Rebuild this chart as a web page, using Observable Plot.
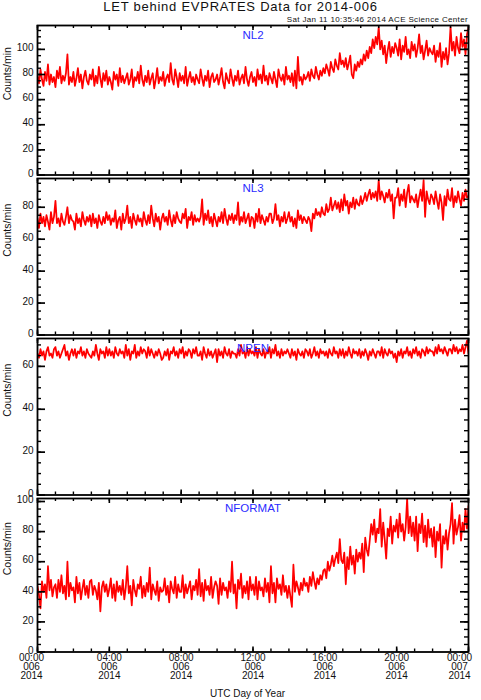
<!DOCTYPE html>
<html><head><meta charset="utf-8">
<script src="https://cdn.jsdelivr.net/npm/d3@7"></script>
<script src="https://cdn.jsdelivr.net/npm/@observablehq/plot@0.6"></script>
<style>
body{margin:0;background:#fff;}
#wrap{position:relative;width:481px;height:700px;overflow:hidden;font-family:"Liberation Sans",Arial,sans-serif;color:#111;}
#title{position:absolute;left:0;width:481px;top:-0.3px;text-align:center;font-size:13px;line-height:13px;letter-spacing:0.75px;z-index:2;}
#stamp{position:absolute;right:13px;top:15.9px;font-size:8px;line-height:8px;letter-spacing:0.35px;z-index:2;}
</style></head><body>
<div id="wrap"><div id="title">LET behind EVPRATES Data for 2014-006</div><div id="stamp">Sat Jan 11 10:35:46 2014 ACE Science Center</div></div>
<script>
const panelNames = ["NL2", "NL3", "NPEN", "NFORMAT"];
const yLabel = "Counts/min";
const xTitle = "UTC Day of Year";
const xTickHours = [0, 4, 8, 12, 16, 20, 24];
const xTickLabels = ["00:00\n006\n2014","04:00\n006\n2014","08:00\n006\n2014","12:00\n006\n2014","16:00\n006\n2014","20:00\n006\n2014","00:00\n007\n2014"];
const yTickSets = [[0,20,40,60,80,100],[0,20,40,60,80],[0,20,40,60],[0,20,40,60,80,100]];
const yMax = [119, 98, 73, 102];

// 5-minute samples (12 per hour), 00:00 day 006 to 00:00 day 007
const nl2 = [
79,73,84,76,71,82,75,88,72,80,74,78,
70,83,77,86,73,79,75,81,96,72,78,74,
82,71,77,85,74,80,69,78,83,75,72,80,
76,84,71,79,73,86,77,70,81,75,83,72,
78,74,68,82,76,80,71,85,74,79,73,77,
81,72,76,84,70,78,75,82,73,87,76,71,
79,74,83,72,77,81,69,76,85,73,78,75,
82,71,77,80,74,89,76,72,84,78,70,81,
75,79,73,86,71,77,82,74,78,72,80,76,
73,84,77,71,79,75,83,70,78,81,74,76,
80,72,78,85,74,69,81,76,73,84,77,71,
79,75,83,72,77,80,73,86,76,71,78,82,
74,78,71,84,76,80,73,87,75,79,72,81,
77,73,82,76,70,84,78,75,80,72,86,76,
79,74,81,71,83,69,94,75,78,72,80,76,
78,82,75,84,79,77,86,80,76,83,79,85,
81,88,84,79,90,85,82,92,87,84,97,88,
91,86,93,84,89,95,80,77,88,83,90,86,
92,88,96,91,99,93,102,97,108,101,110,104,
118,100,107,96,103,89,99,106,94,102,97,105,
101,95,108,92,103,98,110,96,100,93,106,99,
104,94,101,112,97,103,92,99,107,95,101,98,
96,103,90,99,94,105,86,98,92,101,88,97,
118,99,106,95,110,101,97,113,102,108,96,112,
117];
const nl3 = [
73,67,76,70,74,68,75,71,66,77,70,74,
84,70,73,68,76,71,69,74,80,70,75,72,
71,66,76,70,73,68,77,72,69,74,71,75,
68,76,70,73,67,75,71,69,74,70,77,72,
75,69,73,71,78,67,72,74,66,76,70,73,
81,70,74,67,76,72,69,75,71,73,68,77,
72,69,75,70,81,73,68,76,71,74,66,73,
76,71,74,69,78,72,68,75,70,77,73,71,
70,76,73,79,67,74,72,77,69,75,71,73,
71,74,85,69,76,72,78,70,74,68,76,72,
68,74,71,77,70,79,73,69,75,72,76,70,
75,72,83,69,74,71,77,70,73,76,68,74,
73,67,76,71,79,70,75,72,69,74,71,76,
76,70,73,82,72,75,68,74,71,77,70,73,
77,71,74,68,73,67,78,72,75,70,74,72,
70,74,72,65,76,73,79,75,77,74,80,76,
75,82,77,79,86,78,81,84,79,83,77,85,
78,88,81,84,76,83,80,86,79,85,82,81,
87,82,85,89,84,88,91,85,89,86,90,84,
97,85,90,87,83,89,86,91,84,88,73,86,
86,92,81,88,84,91,80,89,94,83,87,85,
83,88,80,86,91,84,97,74,90,85,82,88,
86,82,90,84,79,88,83,72,87,81,91,85,
84,92,80,87,83,90,85,81,89,84,91,86,
87];
const npen = [
66,64,68,65,67,63,67,69,65,66,64,68,
69,65,67,64,66,68,70,65,67,63,66,68,
65,68,64,67,66,69,65,67,64,68,66,65,
64,67,65,70,66,63,68,66,67,64,69,65,
68,65,67,64,69,66,65,68,66,67,64,70,
65,68,63,67,66,70,64,67,65,69,66,68,
67,64,69,65,68,66,64,67,65,68,66,63,
64,67,65,68,63,67,66,69,65,67,64,68,
66,69,64,67,65,68,67,64,68,66,69,65,
65,67,63,69,66,64,68,65,67,64,66,68,
62,68,65,67,64,69,66,65,68,64,67,66,
66,64,68,65,70,66,67,64,69,65,68,66,
67,65,69,64,68,66,65,68,64,67,66,69,
64,68,66,70,65,67,64,68,65,67,66,68,
66,64,68,65,67,63,68,66,65,67,64,68,
67,65,68,64,66,69,65,67,64,68,66,67,
65,67,64,68,66,65,69,66,67,64,68,65,
68,64,67,65,69,66,64,68,66,67,65,68,
64,67,65,68,66,63,67,65,68,66,64,67,
67,65,69,64,68,66,65,68,66,67,64,66,
62,67,65,68,64,67,66,69,65,67,64,68,
66,69,65,67,64,68,67,65,69,66,68,67,
67,65,69,66,70,67,68,66,69,67,65,68,
68,66,70,67,69,66,68,67,70,66,69,72,
66];
const nformat = [
44,38,29,47,40,45,36,57,41,48,37,43,
45,36,48,40,51,39,44,35,60,37,46,41,
43,33,50,39,46,35,42,48,38,44,36,47,
48,38,44,41,35,46,27,43,47,40,45,37,
42,49,36,45,34,47,40,44,38,48,35,43,
57,39,44,31,48,41,37,45,42,50,36,44,
37,46,40,56,35,45,41,38,47,34,43,40,
41,49,38,44,33,47,42,39,50,36,45,40,
40,51,36,45,39,43,47,35,44,41,48,38,
55,37,46,34,48,41,44,38,50,36,43,47,
44,32,49,38,46,41,43,36,47,40,60,39,
45,29,48,42,52,36,44,39,47,35,50,41,
45,38,50,35,47,41,43,37,49,40,46,33,
57,39,46,33,49,42,45,38,51,40,44,36,
44,37,30,58,40,47,43,38,46,41,49,44,
46,40,50,44,53,47,42,49,45,51,48,54,
55,49,60,54,58,64,57,62,66,59,75,61,
59,66,45,63,55,70,58,64,52,68,60,66,
62,72,53,76,68,64,74,85,78,88,73,82,
79,95,70,86,75,62,82,77,90,72,84,80,
88,76,92,80,85,74,83,102,79,90,77,86,
74,90,67,85,79,92,73,84,70,88,76,82,
70,83,63,80,74,85,56,77,72,81,68,79,
85,99,72,88,78,83,91,74,86,80,95,82,
97];
const seriesValues = [nl2, nl3, npen, nformat];

const layout = [
  {top: 0,   height: 176, mt: 25, mb: 1.5},
  {top: 176, height: 160, mt: 2,  mb: 1.5},
  {top: 336, height: 160, mt: 2,  mb: 1.5},
  {top: 496, height: 204, mt: 2,  mb: 48.5}
];
const ML = 37, MR = 13, W = 481;

const wrap = document.getElementById("wrap");
panelNames.forEach((name, k) => {
  const L = layout[k];
  const rows = seriesValues[k].map((v, i) => ({h: i * 5 / 60, v}));
  const fw = W - ML - MR;
  const fh = L.height - L.mt - L.mb;
  const yt = yTickSets[k];
  const yMinor = d3.range(0, yMax[k], 5);
  const xMinor = d3.range(0, 25, 1);
  const marks = [
    Plot.line(rows, {x: "h", y: "v", stroke: "#ff0000", strokeWidth: 1.75, clip: true}),
    Plot.tickY(yMinor, {y: d => d, insetRight: fw - 4, stroke: "#000", strokeWidth: 1.4}),
    Plot.tickY(yMinor, {y: d => d, insetLeft: fw - 4, stroke: "#000", strokeWidth: 1.4}),
    Plot.tickY(yt, {y: d => d, insetRight: fw - 8, stroke: "#000", strokeWidth: 1.7}),
    Plot.tickY(yt, {y: d => d, insetLeft: fw - 8, stroke: "#000", strokeWidth: 1.7}),
    Plot.tickX(xMinor, {x: d => d, insetTop: fh - 3, stroke: "#000", strokeWidth: 1.4}),
    Plot.tickX(xMinor, {x: d => d, insetBottom: fh - 3, stroke: "#000", strokeWidth: 1.4}),
    Plot.tickX(xTickHours, {x: d => d, insetTop: fh - 5, stroke: "#000", strokeWidth: 1.6}),
    Plot.tickX(xTickHours, {x: d => d, insetBottom: fh - 5, stroke: "#000", strokeWidth: 1.6}),
    Plot.frame({stroke: "#000", strokeWidth: 1.8}),
    Plot.text(yt, {y: d => d, text: d => String(d), frameAnchor: "left", textAnchor: "end", dx: -4, dy: -1.5, fontSize: 10, fill: "#111"}),
    Plot.text([name], {frameAnchor: "top", lineAnchor: "bottom", dy: 13.3, fill: "#2b2bff", fontSize: 11.5, text: d => d}),
    Plot.text([yLabel], {frameAnchor: "left", rotate: -90, dx: -29.8, fontSize: 10.5, fill: "#111", text: d => d})
  ];
  if (k === 3) {
    const n = xTickHours.length;
    const lab = {frameAnchor: "bottom", lineAnchor: "top", dy: 2, lineHeight: 0.93, fontSize: 10, fill: "#111"};
    marks.push(Plot.text([0], {x: i => xTickHours[i], text: i => xTickLabels[i], ...lab, dx: -6}));
    marks.push(Plot.text(d3.range(1, n - 1), {x: i => xTickHours[i], text: i => xTickLabels[i], ...lab}));
    marks.push(Plot.text([n - 1], {x: i => xTickHours[i], text: i => xTickLabels[i], ...lab, dx: -9}));
    marks.push(Plot.text([xTitle], {frameAnchor: "bottom", lineAnchor: "bottom", dy: 45.2, dx: -5.5, fontSize: 10, fill: "#111", text: d => d, style: "letter-spacing:0.7px"}));
  }
  const svg = Plot.plot({
    width: W, height: L.height,
    marginLeft: ML, marginRight: MR, marginTop: L.mt, marginBottom: L.mb,
    x: {domain: [0, 24], axis: null},
    y: {domain: [0, yMax[k]], axis: null},
    style: {background: "transparent", fontFamily: "Liberation Sans, Arial, sans-serif", fontSize: "10px", color: "#111", overflow: "visible"},
    marks
  });
  svg.style.position = "absolute";
  svg.style.top = L.top + "px";
  svg.style.left = "0px";
  wrap.appendChild(svg);
});
</script>
</body></html>
